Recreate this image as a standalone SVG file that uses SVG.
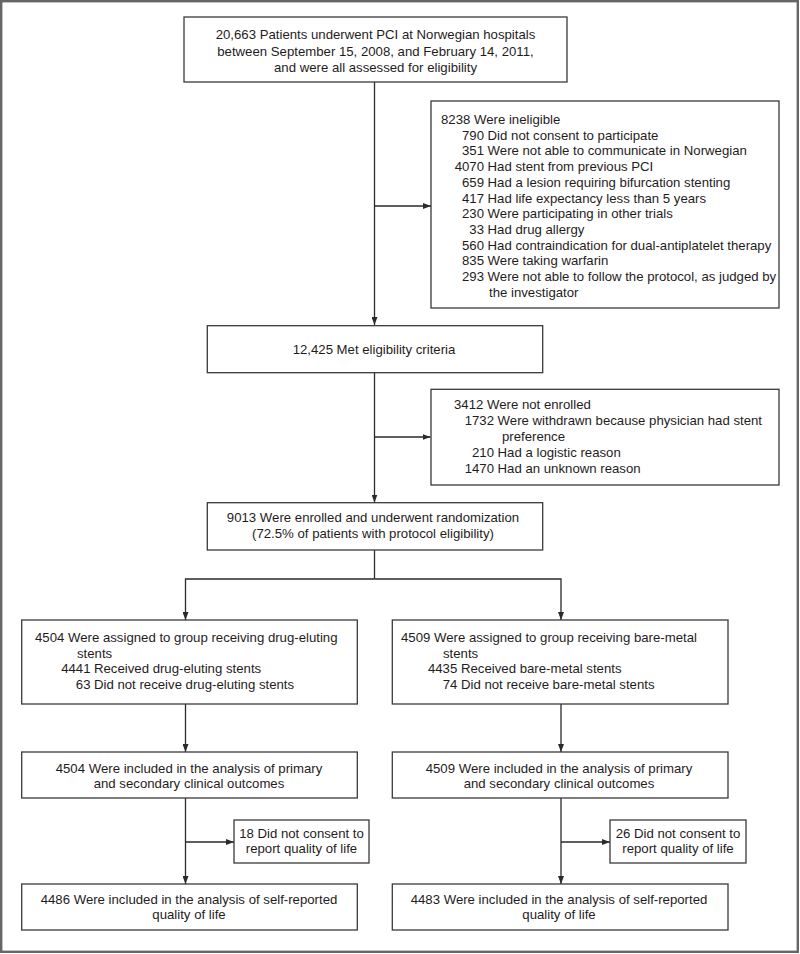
<svg xmlns="http://www.w3.org/2000/svg" width="800" height="954" viewBox="0 0 800 954">
<defs>
<style>
.box{fill:#fff;stroke:#3a3a3a;stroke-width:1.3}
.ln{fill:none;stroke:#2a2a2a;stroke-width:1.3}
text{font-family:"Liberation Sans",Arial,sans-serif;font-size:13.2px;fill:#1f1c1d}
.c{text-anchor:middle}
.e{text-anchor:end}
</style>
<marker id="ah" viewBox="0 0 8 6" refX="8" refY="3" markerWidth="8" markerHeight="6" markerUnits="userSpaceOnUse" orient="auto">
<path d="M0,0 L8,3 L0,6 z" fill="#2a2a2a"/>
</marker>
</defs>
<rect x="0" y="0" width="800" height="954" fill="#fff"/>
<rect id="frame" x="1.2" y="1.2" width="796.6" height="950.6" fill="none" stroke="#666" stroke-width="2.4"/>

<g id="connectors">
<path class="ln" d="M374.5,82 V325" marker-end="url(#ah)"/>
<path class="ln" d="M374.5,206 H431" marker-end="url(#ah)"/>
<path class="ln" d="M374.5,373 V502.5" marker-end="url(#ah)"/>
<path class="ln" d="M374.5,437 H430.5" marker-end="url(#ah)"/>
<path class="ln" d="M374.5,550 V579"/>
<path class="ln" d="M374.5,579 H185.5 V620" marker-end="url(#ah)"/>
<path class="ln" d="M374.5,579 H561 V620" marker-end="url(#ah)"/>
<path class="ln" d="M185.5,704 V752" marker-end="url(#ah)"/>
<path class="ln" d="M561,704 V752" marker-end="url(#ah)"/>
<path class="ln" d="M185.5,798 V884" marker-end="url(#ah)"/>
<path class="ln" d="M185.5,842 H234" marker-end="url(#ah)"/>
<path class="ln" d="M561,798 V884" marker-end="url(#ah)"/>
<path class="ln" d="M561,842 H610" marker-end="url(#ah)"/>
</g>

<g id="assessed">
<rect class="box" x="184" y="17" width="383" height="65"/>
<text class="c" x="375.5" y="39">20,663 Patients underwent PCI at Norwegian hospitals</text>
<text class="c" x="375.5" y="55.5">between September 15, 2008, and February 14, 2011,</text>
<text class="c" x="375.5" y="72">and were all assessed for eligibility</text>
</g>

<g id="ineligible">
<rect class="box" x="431" y="101" width="348" height="207"/>
<text x="441" y="124">8238 Were ineligible</text>
<text class="e" x="484" y="139.7">790</text><text x="487.6" y="139.7">Did not consent to participate</text>
<text class="e" x="484" y="155.4">351</text><text x="487.6" y="155.4">Were not able to communicate in Norwegian</text>
<text class="e" x="484" y="171.1">4070</text><text x="487.6" y="171.1">Had stent from previous PCI</text>
<text class="e" x="484" y="186.8">659</text><text x="487.6" y="186.8">Had a lesion requiring bifurcation stenting</text>
<text class="e" x="484" y="202.5">417</text><text x="487.6" y="202.5">Had life expectancy less than 5 years</text>
<text class="e" x="484" y="218.2">230</text><text x="487.6" y="218.2">Were participating in other trials</text>
<text class="e" x="484" y="233.9">33</text><text x="487.6" y="233.9">Had drug allergy</text>
<text class="e" x="484" y="249.6">560</text><text x="487.6" y="249.6">Had contraindication for dual-antiplatelet therapy</text>
<text class="e" x="484" y="265.3">835</text><text x="487.6" y="265.3">Were taking warfarin</text>
<text class="e" x="484" y="281">293</text><text x="487.6" y="281">Were not able to follow the protocol, as judged by</text>
<text x="489" y="296.7">the investigator</text>
</g>

<g id="eligible">
<rect class="box" x="207.3" y="325.7" width="335.4" height="47"/>
<text class="c" x="374" y="354">12,425 Met eligibility criteria</text>
</g>

<g id="not-enrolled">
<rect class="box" x="431" y="389.3" width="348" height="95.7"/>
<text x="454" y="408.5">3412 Were not enrolled</text>
<text class="e" x="494" y="424.7">1732</text><text x="497.6" y="424.7">Were withdrawn because physician had stent</text>
<text x="502" y="440.9">preference</text>
<text class="e" x="494" y="457.1">210</text><text x="497.6" y="457.1">Had a logistic reason</text>
<text class="e" x="494" y="473.3">1470</text><text x="497.6" y="473.3">Had an unknown reason</text>
</g>

<g id="randomized">
<rect class="box" x="207.3" y="502.7" width="335.4" height="47.3"/>
<text class="c" x="373" y="522">9013 Were enrolled and underwent randomization</text>
<text class="c" x="373" y="537.8">(72.5% of patients with protocol eligibility)</text>
</g>

<g id="des-assigned">
<rect class="box" x="21.7" y="620" width="335.6" height="84"/>
<text x="35" y="642">4504 Were assigned to group receiving drug-eluting</text>
<text x="77" y="657.5">stents</text>
<text class="e" x="90.5" y="673">4441</text><text x="94" y="673">Received drug-eluting stents</text>
<text class="e" x="90.5" y="688.5">63</text><text x="94" y="688.5">Did not receive drug-eluting stents</text>
</g>

<g id="bms-assigned">
<rect class="box" x="392.3" y="620" width="335.7" height="84"/>
<text x="401" y="642">4509 Were assigned to group receiving bare-metal</text>
<text x="443" y="657.5">stents</text>
<text class="e" x="457.3" y="673">4435</text><text x="461" y="673">Received bare-metal stents</text>
<text class="e" x="457.3" y="688.5">74</text><text x="461" y="688.5">Did not receive bare-metal stents</text>
</g>

<g id="des-clinical">
<rect class="box" x="21.7" y="752" width="335.6" height="46"/>
<text class="c" x="189" y="772.5">4504 Were included in the analysis of primary</text>
<text class="c" x="189" y="788">and secondary clinical outcomes</text>
</g>

<g id="bms-clinical">
<rect class="box" x="392.3" y="752" width="335.7" height="46"/>
<text class="c" x="559" y="772.5">4509 Were included in the analysis of primary</text>
<text class="c" x="559" y="788">and secondary clinical outcomes</text>
</g>

<g id="des-noqol">
<rect class="box" x="234" y="820" width="135" height="43"/>
<text class="c" x="301.5" y="837.5">18 Did not consent to</text>
<text class="c" x="301.5" y="853">report quality of life</text>
</g>

<g id="bms-noqol">
<rect class="box" x="610" y="820" width="136" height="43"/>
<text class="c" x="678" y="837.5">26 Did not consent to</text>
<text class="c" x="678" y="853">report quality of life</text>
</g>

<g id="des-qol">
<rect class="box" x="21.7" y="884" width="335.6" height="46"/>
<text class="c" x="189" y="903.5">4486 Were included in the analysis of self-reported</text>
<text class="c" x="189" y="919">quality of life</text>
</g>

<g id="bms-qol">
<rect class="box" x="392.3" y="884" width="335.7" height="46"/>
<text class="c" x="559" y="903.5">4483 Were included in the analysis of self-reported</text>
<text class="c" x="559" y="919">quality of life</text>
</g>
</svg>
